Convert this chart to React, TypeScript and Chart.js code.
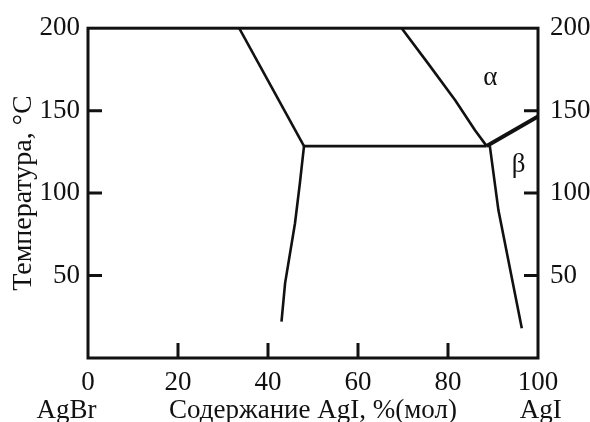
import React, { useEffect, useRef } from 'react';
import { Chart, registerables } from 'chart.js';

Chart.register(...registerables);

// ---- data ----
const xTicks = [0, 20, 40, 60, 80, 100];
const yTicks = [50, 100, 150, 200];
const xInnerTicks = [20, 40, 60, 80];
const yInnerTicks = [50, 100, 150];

const upperLeftBoundary = [
  { x: 33.6, y: 200 },
  { x: 48, y: 128.5 },
];
const eutectoidLine = [
  { x: 48, y: 128.5 },
  { x: 88.6, y: 128.5 },
];
const lowerLeftBoundary = [
  { x: 48, y: 128.5 },
  { x: 47.1, y: 106.4 },
  { x: 46, y: 81.7 },
  { x: 43.8, y: 45.4 },
  { x: 43, y: 22 },
];
const alphaBoundary = [
  { x: 69.7, y: 200 },
  { x: 75.6, y: 178.5 },
  { x: 81.6, y: 156.3 },
  { x: 86, y: 138.1 },
  { x: 88.6, y: 128.5 },
];
const alphaBetaBoundary = [
  { x: 88.6, y: 128.5 },
  { x: 100, y: 146.5 },
];
const betaBoundary = [
  { x: 89.3, y: 128.5 },
  { x: 91.2, y: 89.7 },
  { x: 96.4, y: 18 },
];
const phaseLabels = [
  { text: 'α', x: 89.4, y: 170 },
  { text: 'β', x: 95.7, y: 117 },
];
const endLabels = [
  { text: 'AgBr', x: -4.8 },
  { text: 'AgI', x: 100.6 },
];

const INK = '#111';
const FAMILY = "'Liberation Serif', 'Times New Roman', serif";
const font = { family: FAMILY, size: 27 };

const framePlugin = {
  id: 'framePlugin',
  afterDraw(chart: any) {
    const { ctx, chartArea } = chart;
    const xs = chart.scales.x;
    const ys = chart.scales.y;
    const { left, right, top, bottom } = chartArea;
    ctx.save();
    ctx.strokeStyle = INK;
    ctx.lineWidth = 3;
    ctx.lineCap = 'square';
    ctx.strokeRect(left, top, right - left, bottom - top);
    ctx.lineCap = 'butt';
    ctx.lineWidth = 3;
    ctx.beginPath();
    xInnerTicks.forEach((v) => {
      const px = xs.getPixelForValue(v);
      ctx.moveTo(px, bottom);
      ctx.lineTo(px, bottom - 15);
    });
    yInnerTicks.forEach((v) => {
      const py = ys.getPixelForValue(v);
      ctx.moveTo(left, py);
      ctx.lineTo(left + 14, py);
      ctx.moveTo(right, py);
      ctx.lineTo(right - 14, py);
    });
    ctx.stroke();

    ctx.fillStyle = INK;
    ctx.font = `27px ${FAMILY}`;
    ctx.textAlign = 'center';
    ctx.textBaseline = 'middle';
    phaseLabels.forEach((l) => {
      ctx.fillText(l.text, xs.getPixelForValue(l.x), ys.getPixelForValue(l.y));
    });
    const titleY = chart.height - 11.5;
    endLabels.forEach((l) => {
      ctx.fillText(l.text, xs.getPixelForValue(l.x), titleY);
    });
    ctx.restore();
  },
};

export default function App() {
  const ref = useRef<HTMLCanvasElement | null>(null);

  useEffect(() => {
    if (!ref.current) return;
    const series = [
      { data: upperLeftBoundary, w: 2.6 },
      { data: eutectoidLine, w: 2.6 },
      { data: lowerLeftBoundary, w: 2.6 },
      { data: alphaBoundary, w: 2.6 },
      { data: alphaBetaBoundary, w: 4 },
      { data: betaBoundary, w: 2.6 },
    ];
    const chart = new Chart(ref.current, {
      type: 'scatter',
      data: {
        datasets: series.map((s) => ({
          data: s.data,
          showLine: true,
          borderColor: INK,
          backgroundColor: INK,
          borderWidth: s.w,
          pointRadius: 0,
          fill: false,
          tension: 0,
          borderJoinStyle: 'round' as const,
        })),
      },
      options: {
        responsive: false,
        animation: false,
        events: [],
        layout: { padding: { top: 28, left: 0, right: 0, bottom: 0 } },
        plugins: { legend: { display: false }, tooltip: { enabled: false } },
        scales: {
          x: {
            type: 'linear',
            position: 'bottom',
            min: 0,
            max: 100,
            afterBuildTicks: (s: any) => {
              s.ticks = xTicks.map((v) => ({ value: v }));
            },
            ticks: { font, color: INK, padding: 9, maxRotation: 0, autoSkip: false },
            grid: { display: false, drawTicks: false },
            border: { display: false },
            title: {
              display: true,
              text: 'Содержание AgI, %(мол)',
              font: { ...font, lineHeight: 0.85 },
              color: INK,
              padding: 0,
            },
            afterFit: (s: any) => {
              s.height = 64;
            },
          },
          y: {
            type: 'linear',
            position: 'left',
            min: 0,
            max: 200,
            afterBuildTicks: (s: any) => {
              s.ticks = yTicks.map((v) => ({ value: v }));
            },
            ticks: { font, color: INK, padding: 8 },
            grid: { display: false, drawTicks: false },
            border: { display: false },
            title: {
              display: true,
              text: 'Температура, °C',
              font: { family: FAMILY, size: 28, lineHeight: 1.1 },
              color: INK,
              padding: { top: 8, bottom: 0 },
            },
            afterFit: (s: any) => {
              s.width = 88;
            },
          },
          y2: {
            type: 'linear',
            position: 'right',
            display: true,
            min: 0,
            max: 200,
            afterBuildTicks: (s: any) => {
              s.ticks = yTicks.map((v) => ({ value: v }));
            },
            ticks: { font, color: INK, padding: 12 },
            grid: { display: false, drawTicks: false },
            border: { display: false },
            afterFit: (s: any) => {
              s.width = 52;
            },
          },
        },
      },
      plugins: [framePlugin],
    } as any);
    return () => chart.destroy();
  }, []);

  return (
    <div style={{ position: 'absolute', left: 0, top: 0, width: 590, height: 422, background: '#fff' }}>
      <canvas ref={ref} width={590} height={422} />
    </div>
  );
}
